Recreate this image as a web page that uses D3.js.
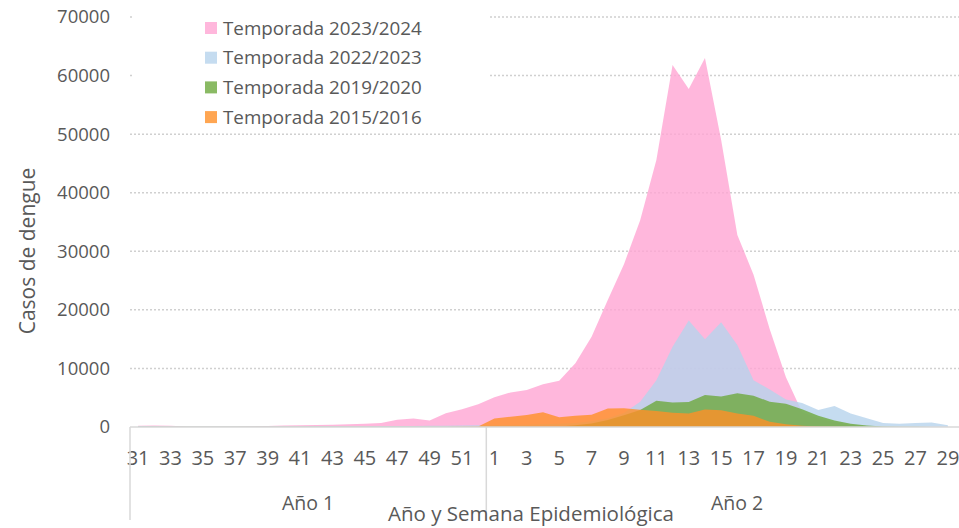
<!DOCTYPE html>
<html>
<head>
<meta charset="utf-8">
<script src="https://cdn.jsdelivr.net/npm/d3@7"></script>
<style>
  body { margin: 0; background: #fff; }
  text { font-family: "Open Sans", sans-serif; fill: #595959; }
</style>
</head>
<body>
<div id="chart"></div>
<script>
  // Weeks of the epidemiological season (year 1: 31-52, year 2: 1-29)
  const weeksYear1 = [31, 32, 33, 34, 35, 36, 37, 38, 39, 40, 41, 42, 43, 44, 45, 46, 47, 48, 49, 50, 51, 52];
  const weeksYear2 = [1, 2, 3, 4, 5, 6, 7, 8, 9, 10, 11, 12, 13, 14, 15, 16, 17, 18, 19, 20, 21, 22, 23, 24, 25, 26, 27, 28, 29];
  const yTicks = [0, 10000, 20000, 30000, 40000, 50000, 60000, 70000];

  // Cases per week, one array per season
  const season2324 = [200, 250, 200, 100, 100, 100, 100, 120, 150, 250, 300, 350, 400, 450, 550, 700, 1250, 1450, 1100, 2350, 3050, 3900,
    5100, 5900, 6300, 7300, 7900, 10900, 15400, 21700, 27800, 35300, 45600, 61800, 57700, 63000, 49000, 32800, 26000, 16700, 8500, 2500, 1500, 800, 400, 200, 100, 80, 60, 50, 30];
  const season2223 = [150, 120, 100, 100, 90, 80, 80, 80, 90, 100, 100, 110, 120, 130, 140, 150, 160, 180, 200, 220, 250, 280,
    300, 350, 400, 450, 550, 700, 1000, 1500, 2400, 4300, 8000, 13700, 18200, 15000, 17900, 14000, 8000, 6400, 4700, 4100, 2900, 3600, 2300, 1500, 700, 550, 700, 750, 300];
  const season1920 = [30, 30, 30, 30, 30, 30, 30, 30, 30, 30, 30, 30, 30, 30, 30, 30, 30, 30, 40, 40, 40, 50,
    50, 60, 70, 80, 100, 300, 600, 1200, 2000, 2900, 4500, 4200, 4250, 5450, 5200, 5750, 5350, 4300, 3950, 3050, 1900, 1100, 550, 250, 100, 50, 30, 20, 10];
  const season1516 = [0, 0, 0, 0, 0, 0, 0, 0, 0, 0, 0, 0, 0, 0, 0, 0, 0, 0, 0, 0, 30, 80,
    1450, 1750, 2050, 2500, 1650, 1900, 2100, 3150, 3200, 2950, 2750, 2450, 2300, 3000, 2850, 2300, 1900, 900, 450, 200, 80, 30, 10, 0, 0, 0, 0, 0, 0];

  const seriesNames = ["Temporada 2023/2024", "Temporada 2022/2023", "Temporada 2019/2020", "Temporada 2015/2016"];
  const seriesValues = [season2324, season2223, season1920, season1516];
  const seriesColors = ["#ffa5d3", "#b6d3ec", "#6da93d", "#ff9027"];

  const width = 959, height = 528;
  const plot = { left: 130, right: 956, top: 17, bottom: 427 };

  const svg = d3.select("#chart").append("svg")
      .attr("width", width)
      .attr("height", height);

  // Category keys: year + week
  const keys = weeksYear1.map(w => "1-" + w).concat(weeksYear2.map(w => "2-" + w));
  const labels = weeksYear1.concat(weeksYear2);

  const x = d3.scaleBand()
      .domain(keys)
      .range([plot.left, plot.right]);
  const xc = k => x(k) + x.bandwidth() / 2;

  const y = d3.scaleLinear()
      .domain([0, 70000])
      .range([plot.bottom, plot.top]);

  // Gridlines
  svg.append("g")
      .selectAll("line")
      .data(yTicks.filter(d => d > 0))
      .enter().append("line")
      .attr("x1", plot.left)
      .attr("x2", width)
      .attr("y1", d => y(d))
      .attr("y2", d => y(d))
      .attr("stroke", "#d0d0d0")
      .attr("stroke-width", 1.5)
      .attr("stroke-dasharray", "2,2");

  // Y axis labels
  const yAxis = svg.append("g")
      .attr("transform", `translate(${plot.left}, 0)`)
      .call(d3.axisLeft(y).tickValues(yTicks).tickSize(0).tickPadding(20).tickFormat(d3.format("d")));
  yAxis.select(".domain").remove();
  yAxis.selectAll("text")
      .style("font-size", "18.5px")
      .attr("fill", "#595959");

  // Areas
  const area = d3.area()
      .x((d, i) => xc(keys[i]))
      .y0(y(0))
      .y1(d => y(d));

  svg.append("g")
      .selectAll("path")
      .data(seriesValues)
      .enter().append("path")
      .attr("d", d => area(d))
      .attr("fill", (d, i) => seriesColors[i])
      .attr("fill-opacity", 0.8);

  // X axis line
  svg.append("line")
      .attr("x1", plot.left).attr("x2", width)
      .attr("y1", plot.bottom).attr("y2", plot.bottom)
      .attr("stroke", "#d9d9d9").attr("stroke-width", 1.5);

  // X tick labels (every other week)
  svg.append("g")
      .selectAll("text")
      .data(keys.filter((k, i) => i % 2 === 0 || k === "2-1"))
      .enter().append("text")
      .attr("x", d => xc(d))
      .attr("y", 465)
      .attr("text-anchor", "middle")
      .style("font-size", "20px")
      .text(d => labels[keys.indexOf(d)]);

  // Year group separators
  const sep = [plot.left, x("2-1")];
  svg.append("g")
      .selectAll("line")
      .data(sep)
      .enter().append("line")
      .attr("x1", d => d).attr("x2", d => d)
      .attr("y1", plot.bottom).attr("y2", 520)
      .attr("stroke", "#d9d9d9").attr("stroke-width", 1.5);

  svg.append("text")
      .attr("x", (plot.left + x("2-1")) / 2)
      .attr("y", 510)
      .attr("text-anchor", "middle")
      .style("font-size", "19.5px")
      .text("Año 1");
  svg.append("text")
      .attr("x", (x("2-1") + plot.right) / 2 + 16)
      .attr("y", 510)
      .attr("text-anchor", "middle")
      .style("font-size", "19.5px")
      .text("Año 2");

  // Axis titles
  svg.append("text")
      .attr("x", 531)
      .attr("y", 521)
      .attr("text-anchor", "middle")
      .style("font-size", "20.5px")
      .text("Año y Semana Epidemiológica");

  svg.append("text")
      .attr("transform", "rotate(-90)")
      .attr("x", -251)
      .attr("y", 35)
      .attr("text-anchor", "middle")
      .style("font-size", "21px")
      .text("Casos de dengue");

  // Legend
  const legendBox = svg.append("g");
  legendBox.append("rect")
      .attr("x", 132).attr("y", 6)
      .attr("width", 358).attr("height", 124)
      .attr("fill", "#fff");

  const legend = legendBox.selectAll(".legend")
      .data(seriesNames)
      .enter().append("g")
      .attr("class", "legend")
      .attr("transform", (d, i) => `translate(205, ${28 + i * 29.7})`);

  legend.append("rect")
      .attr("x", 0)
      .attr("y", -6)
      .attr("width", 12)
      .attr("height", 12)
      .attr("fill", (d, i) => seriesColors[i])
      .attr("fill-opacity", 0.8);

  legend.append("text")
      .attr("x", 18)
      .attr("y", 6.5)
      .style("font-size", "18.8px")
      .text(d => d);
</script>
</body>
</html>
